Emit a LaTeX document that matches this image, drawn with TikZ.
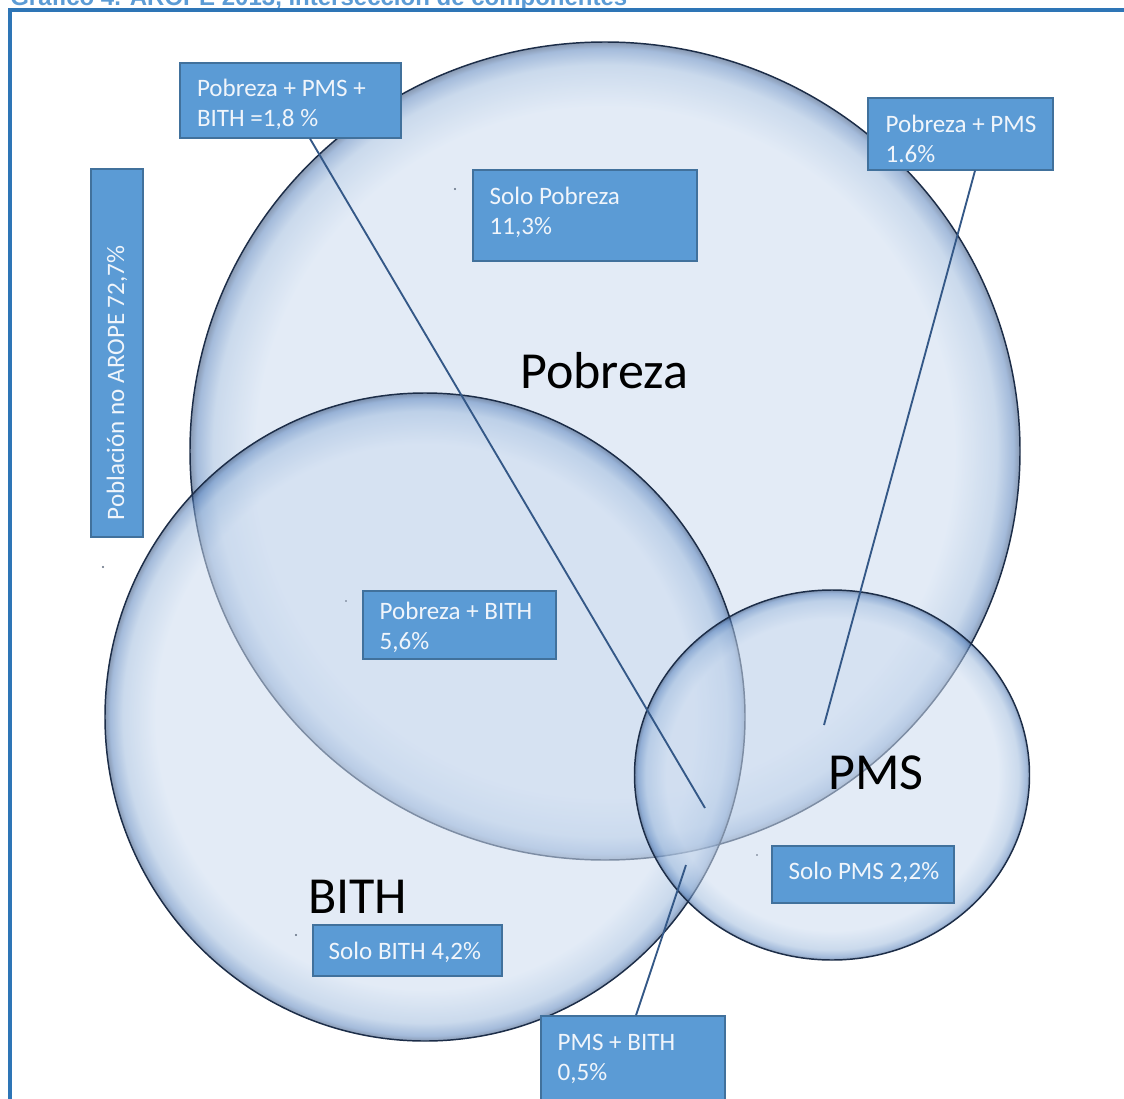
\documentclass[tikz,border=0pt]{standalone}
\usepackage{fontspec}
\setmainfont{Carlito}
\newfontfamily\titlefont{Liberation Sans}
\usetikzlibrary{shapes.geometric}
\definecolor{gIn}{RGB}{205,220,240}
\definecolor{gMid}{RGB}{160,188,222}
\definecolor{gBand}{RGB}{90,132,190}
\definecolor{gEdge}{RGB}{40,70,115}
\definecolor{edgeDark}{RGB}{28,45,72}
\definecolor{boxFill}{RGB}{91,155,213}
\definecolor{boxEdge}{RGB}{65,113,156}
\definecolor{boxText}{RGB}{240,245,251}
\definecolor{connCol}{RGB}{52,88,135}
\definecolor{frameCol}{RGB}{46,117,182}
\definecolor{titleCol}{RGB}{91,155,213}
\pgfdeclareradialshading{glass}{\pgfpoint{0bp}{0bp}}{color(0bp)=(gIn); color(21bp)=(gIn); color(23.6bp)=(gMid); color(24.6bp)=(gBand); color(25bp)=(gEdge); color(50bp)=(gEdge)}
\tikzset{
  bubble/.style={ellipse, inner sep=0pt, shading=glass, fill opacity=0.55, draw=edgeDark, draw opacity=1, line width=1.1pt},
  lbl/.style={rectangle, draw=boxEdge, line width=0.9pt, fill=boxFill, inner sep=0pt},
  ltxt/.style={text=boxText, font=\fontsize{18.8}{22.5}\selectfont, align=left, inner sep=0pt, anchor=west},
  big/.style={font=\fontsize{39}{41}\selectfont, text=black, inner sep=0pt, anchor=base west},
  conn/.style={draw=connCol, line width=1.4pt},
  frameline/.style={draw=frameCol, line width=3.4pt},
  speck/.style={fill=edgeDark!70}
}
\begin{document}
\begin{tikzpicture}[x=0.75pt, y=-0.75pt]
\useasboundingbox (0,0) rectangle (1124,1099);
\clip (0,0) rectangle (1124,1099);
\fill[white] (0,0) rectangle (1124,1099);

% title (cut off at the top) and frame
\node[anchor=base west, inner sep=0pt, text=titleCol, font=\titlefont\bfseries\fontsize{18}{20}\selectfont] (title) at (10,6) {Gráfico 4. AROPE 2013, intersección de componentes};
\draw[frameline] (10,1110) -- (10,10) -- (1135,10);

% circles
\node[bubble, minimum width=622.5pt, minimum height=613.5pt] (Pob) at (605,451) {};
\node[bubble, minimum width=480pt, minimum height=486pt] (Bith) at (425,717) {};
\node[bubble, minimum width=296.25pt, minimum height=277.5pt] (Pms) at (832,775) {};

% specks
\fill[speck] (455,189) circle (0.9pt);
\fill[speck] (103,567) circle (0.9pt);
\fill[speck] (346,601) circle (0.6pt);
\fill[speck] (757,855) circle (0.6pt);
\fill[speck] (296,935) circle (0.8pt);

% connector ends
\coordinate (e1) at (705,808);
\coordinate (e2) at (824,725);
\coordinate (e3) at (686,865);

% boxes
\node[lbl, minimum width=165.75pt, minimum height=56.25pt] (B1) at (290.5,100.5) {};
\node[lbl, minimum width=168pt, minimum height=68.25pt] (SP) at (585,215.5) {};
\node[lbl, minimum width=138.75pt, minimum height=54pt] (PP) at (960.5,134) {};
\node[lbl, minimum width=39pt, minimum height=276pt] (NA) at (117,353) {};
\node[lbl, minimum width=144.75pt, minimum height=51pt] (PB) at (459.5,625) {};
\node[lbl, minimum width=136.5pt, minimum height=42.75pt] (SPMS) at (863,874.5) {};
\node[lbl, minimum width=141.75pt, minimum height=38.25pt] (SB) at (407.5,950.5) {};
\node[lbl, minimum width=138pt, minimum height=63pt] (PMB) at (633,1058) {};

\draw[conn] ([xshift=14.6pt]B1.south) -- (e1);
\draw[conn] ([xshift=10.9pt]PP.south) -- (e2);
\draw[conn] ([xshift=2.25pt]PMB.north) -- (e3);

% box texts
\node[ltxt] (B1t) at ([xshift=13pt,yshift=-3pt]B1.west) {Pobreza + PMS +\\BITH =1,8 \%};
\node[ltxt] (SPt) at ([xshift=12.75pt,yshift=2.25pt]SP.west) {Solo Pobreza\\11,3\%};
\node[ltxt] (PPt) at ([xshift=13.5pt,yshift=-3.75pt]PP.west) {Pobreza + PMS\\1.6\%};
\node[ltxt, rotate=90] (NAt) at ([yshift=12.75pt]NA.south) {Población no AROPE 72,7\%};
\node[ltxt] (PBt) at ([xshift=12.75pt,yshift=-1.5pt]PB.west) {Pobreza + BITH\\5,6\%};
\node[ltxt] (SPMSt) at ([xshift=12.75pt,yshift=1.5pt]SPMS.west) {Solo PMS 2,2\%};
\node[ltxt] (SBt) at ([xshift=12pt,yshift=-1.5pt]SB.west) {Solo BITH 4,2\%};
\node[ltxt] (PMBt) at ([xshift=12.75pt,yshift=-0.75pt]PMB.west) {PMS + BITH\\0,5\%};

% big labels
\node[big] (tPob) at (520,388) {Pobreza};
\node[big] (tPms) at (828,789) {PMS};
\node[big] (tBith) at (308,913) {BITH};
\end{tikzpicture}
\end{document}
